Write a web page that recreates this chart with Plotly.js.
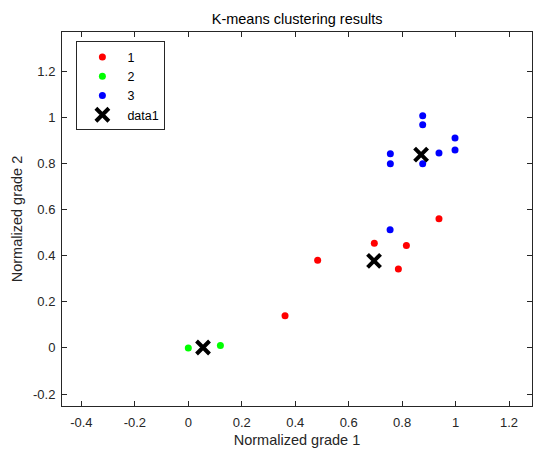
<!DOCTYPE html>
<html>
<head>
<meta charset="utf-8">
<script src="https://cdn.plot.ly/plotly-3.0.1.min.js"></script>
<style>html,body{margin:0;padding:0;background:#fff;}#chart{width:533px;height:450px;}</style>
</head>
<body>
<div id="chart"></div>
<script>
// Cluster 1 (red)
const c1x = [0.362, 0.484, 0.696, 0.816, 0.786, 0.938];
const c1y = [0.140, 0.380, 0.454, 0.444, 0.342, 0.561];
// Cluster 2 (green)
const c2x = [0.000, 0.120];
const c2y = [0.000, 0.011];
// Cluster 3 (blue)
const c3x = [0.877, 0.877, 0.756, 0.756, 0.877, 0.938, 0.998, 0.998, 0.755];
const c3y = [1.008, 0.969, 0.843, 0.799, 0.799, 0.846, 0.911, 0.859, 0.513];
// Centroids (data1)
const cenX = [0.695, 0.055, 0.871];
const cenY = [0.378, 0.002, 0.839];

const seriesNames = ['1', '2', '3', 'data1'];
const xTicks = [-0.4, -0.2, 0, 0.2, 0.4, 0.6, 0.8, 1, 1.2];
const yTicks = [-0.2, 0, 0.2, 0.4, 0.6, 0.8, 1, 1.2];
const xRange = [-0.4726, 1.286];
const yRange = [-0.252, 1.371];

const font = 'Liberation Sans, Arial, Helvetica, sans-serif';
const axisColor = '#262626';

function dots(x, y, name, color) {
  return {x: x, y: y, name: name, type: 'scatter', mode: 'markers',
    marker: {color: color, size: 7, line: {width: 0}}};
}

const traces = [
  dots(c1x, c1y, seriesNames[0], '#ff0000'),
  dots(c2x, c2y, seriesNames[1], '#00ff00'),
  dots(c3x, c3y, seriesNames[2], '#0000ff'),
  {x: cenX, y: cenY, name: seriesNames[3], type: 'scatter', mode: 'markers',
    marker: {symbol: 'x-thin-open', size: 13, color: '#000000', line: {color: '#000000', width: 4}}}
];

const axisBase = {
  showline: true, linecolor: axisColor, linewidth: 1, mirror: 'ticks',
  ticks: 'inside', ticklen: 5, tickwidth: 1, tickcolor: axisColor,
  showgrid: false, zeroline: false,
  tickfont: {family: font, size: 13, color: axisColor}
};

const layout = {
  width: 533, height: 450,
  paper_bgcolor: '#ffffff', plot_bgcolor: '#ffffff',
  margin: {l: 62, r: 1, t: 32, b: 44},
  title: {text: 'K-means clustering results', font: {family: font, size: 14.5, color: '#000000'},
    x: 0.5575, xanchor: 'center', y: 0.958, yanchor: 'middle'},
  xaxis: Object.assign({}, axisBase, {
    range: xRange, tickvals: xTicks, ticktext: xTicks.map(String),
    ticklabelstandoff: 4,
    title: {text: 'Normalized grade 1', font: {family: font, size: 14.5, color: axisColor}, standoff: 6}
  }),
  yaxis: Object.assign({}, axisBase, {
    range: yRange, tickvals: yTicks, ticktext: yTicks.map(String),
    ticklabelstandoff: 3,
    title: {text: 'Normalized grade 2', font: {family: font, size: 14.5, color: axisColor}, standoff: 6}
  }),
  showlegend: true,
  legend: {x: 0.0306, y: 0.975, xanchor: 'left', yanchor: 'top',
    bgcolor: '#ffffff', bordercolor: axisColor, borderwidth: 1,
    font: {family: font, size: 12.5, color: '#000000'}, itemwidth: 40,
    tracegroupgap: 0}
};

Plotly.newPlot('chart', traces, layout, {staticPlot: true, displayModeBar: false});
</script>
</body>
</html>
